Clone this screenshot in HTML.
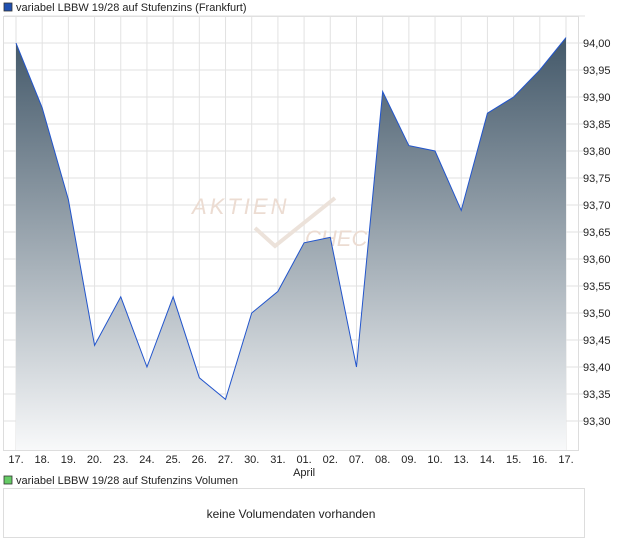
<!DOCTYPE html><html><head><style>
body{margin:0;background:#fff;font-family:"Liberation Sans",sans-serif;}
</style></head><body>
<svg width="620" height="546" xmlns="http://www.w3.org/2000/svg" font-family="Liberation Sans, sans-serif">
<defs><linearGradient id="g" gradientUnits="userSpaceOnUse" x1="0" y1="40" x2="0" y2="450"><stop offset="0" stop-color="#44596a"/><stop offset="1" stop-color="#f8f9fa"/></linearGradient></defs>
<rect x="4" y="3" width="8" height="8" fill="#1f4fb0" stroke="#333" stroke-width="0.8"/>
<text x="16" y="11" font-size="11" fill="#222">variabel LBBW 19/28 auf Stufenzins (Frankfurt)</text>
<rect x="3.5" y="16.5" width="575" height="434" fill="#fff" stroke="#ddd"/>
<g stroke="#e2e2e2" id="grid"></g>
<g id="lab" font-size="11" fill="#222"></g>
<rect x="4" y="476" width="8" height="8" fill="#6c6" stroke="#333" stroke-width="0.8"/>
<text x="16" y="484" font-size="11" fill="#222">variabel LBBW 19/28 auf Stufenzins Volumen</text>
<rect x="3.5" y="488.5" width="581" height="49" fill="#fff" stroke="#ddd"/>
<text x="291" y="518" font-size="12" fill="#222" text-anchor="middle">keine Volumendaten vorhanden</text>
<text x="192" y="214" font-size="22" fill="#ecdcd2" font-style="italic" letter-spacing="3">AKTIEN</text>
<text x="305" y="246" font-size="22" fill="#ecdcd2" font-style="italic">CHECK</text>
<path d="M255 228 L275 246 L335 198" stroke="#ece2da" stroke-width="4" fill="none"/>
<path id="area" fill="url(#g)"/>
<polyline id="line" fill="none" stroke="#2255cc" stroke-width="1"/>
</svg>
<script>
var d=[94.00,93.88,93.71,93.44,93.53,93.40,93.53,93.38,93.34,93.50,93.54,93.63,93.64,93.40,93.91,93.81,93.80,93.69,93.87,93.90,93.95,94.01];
var L=["17.","18.","19.","20.","23.","24.","25.","26.","27.","30.","31.","01.","02.","07.","08.","09.","10.","13.","14.","15.","16.","17."];
var ns="http://www.w3.org/2000/svg",g=document.getElementById("grid"),lab=document.getElementById("lab");
function X(i){return 16+i*550/21}function Y(v){return 43+(94-v)/0.05*27}
function el(p,t,a){var e=document.createElementNS(ns,t);for(var k in a)e.setAttribute(k,a[k]);p.appendChild(e);return e}
for(var i=0;i<22;i++){el(g,"line",{x1:X(i),x2:X(i),y1:17,y2:450});var t=el(lab,"text",{x:X(i),y:463,"text-anchor":"middle"});t.textContent=L[i];}
var a=el(lab,"text",{x:X(11),y:476,"text-anchor":"middle"});a.textContent="April";
for(var v=93.30;v<=94.051;v+=0.05){var y=Y(v);el(g,"line",{x1:4,x2:585,y1:y,y2:y});if(v<94.03){var t=el(lab,"text",{x:583,y:y+4});t.textContent=v.toFixed(2).replace(".",",");}}
var pts=d.map(function(v,i){return X(i)+","+Y(v)}).join(" ");
document.getElementById("line").setAttribute("points",pts);
document.getElementById("area").setAttribute("d","M"+X(0)+",450 L"+pts.split(" ").join(" L")+" L"+X(21)+",450Z");
</script>
</body></html>
